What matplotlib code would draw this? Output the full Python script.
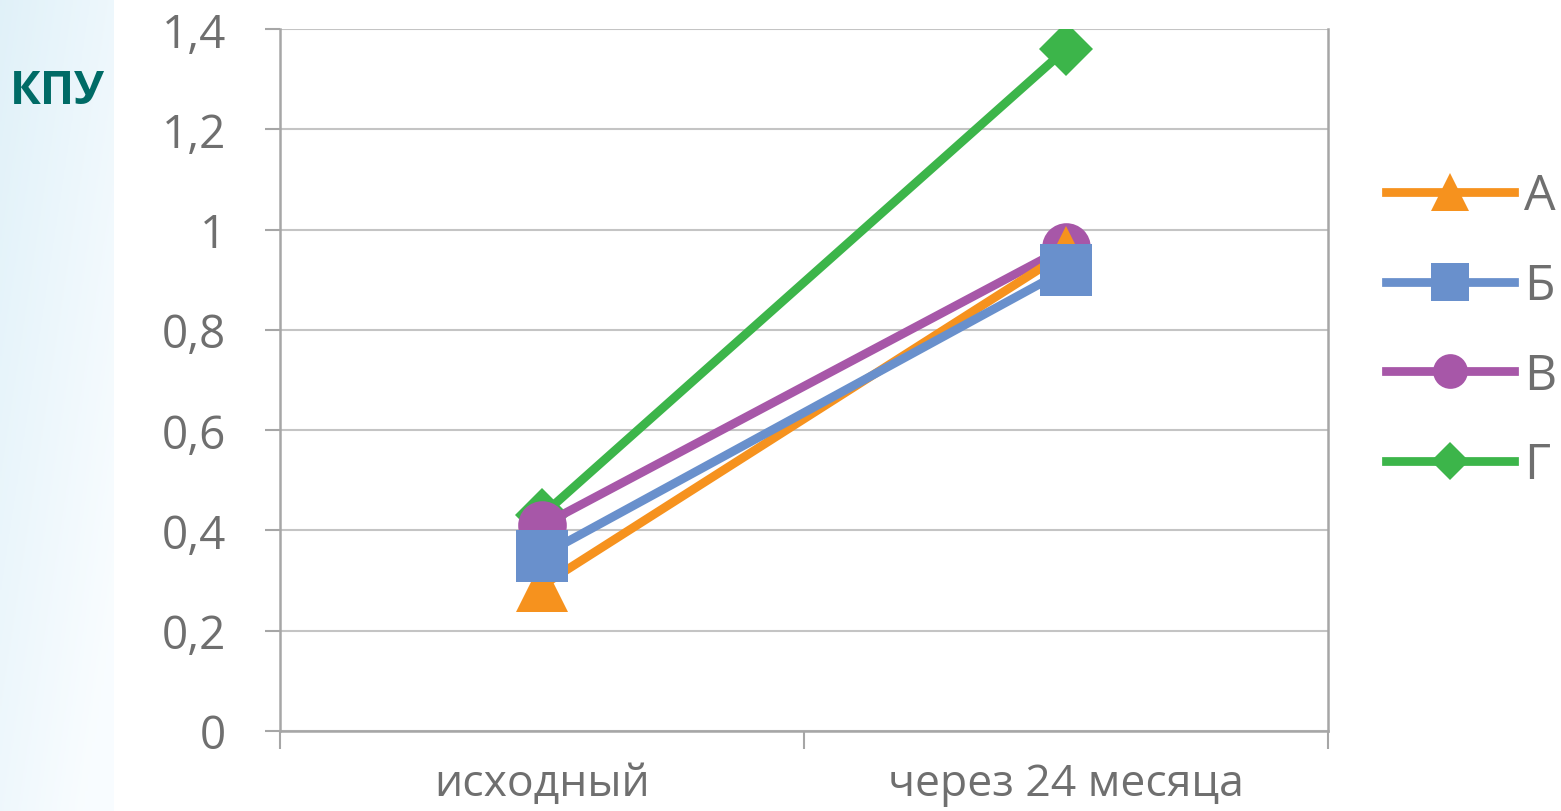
import numpy as np
import matplotlib
matplotlib.use("Agg")
import matplotlib.pyplot as plt
from matplotlib.lines import Line2D
from matplotlib.ticker import FixedLocator, FuncFormatter

categories = ["исходный", "через 24 месяца"]
series_names = ["А", "Б", "В", "Г"]
values_A = [0.29, 0.955]
values_B = [0.35, 0.92]
values_V = [0.41, 0.965]
values_G = [0.43, 1.36]
y_ticks = [0, 0.2, 0.4, 0.6, 0.8, 1.0, 1.2, 1.4]

colors = {"А": "#f6921e", "Б": "#6990cc", "В": "#a757a8", "Г": "#3cb54a"}
markers = {"А": "^", "Б": "s", "В": "o", "Г": "D"}
msizes = {"А": 38, "Б": 38, "В": 35, "Г": 27}
data = {"А": values_A, "Б": values_B, "В": values_V, "Г": values_G}

plt.rcParams['font.family'] = ['Open Sans', 'DejaVu Sans']
text_color = "#6f6f6f"

fig = plt.figure(figsize=(15.61, 8.12), dpi=100)
fig.patch.set_facecolor("white")

# light blue gradient band on the left edge
bg = fig.add_axes([0, 0, 113 / 1561, 1])
gx = np.linspace(0, 1, 50)
gy = np.linspace(0, 1, 100)
GX, GY = np.meshgrid(gx, gy)
t = np.clip(0.55 * GX + 0.6 * GY, 0, 1)
c0 = np.array([0.88, 0.945, 0.975])
c1 = np.array([0.975, 0.99, 1.0])
img = c0[None, None, :] * (1 - t[..., None]) + c1[None, None, :] * t[..., None]
bg.imshow(img, aspect="auto", extent=[0, 1, 0, 1], origin="upper")
bg.axis("off")

ax = fig.add_axes([280 / 1561, 1 - 732 / 812, (1328 - 280) / 1561, (732 - 30) / 812])
x = np.arange(len(categories))

for name in ["Г", "В", "А", "Б"]:
    ax.plot(x, data[name], color=colors[name], lw=6.3, marker=markers[name],
            markersize=msizes[name], markeredgewidth=0, solid_capstyle="butt", zorder=3)

ax.set_xlim(-0.5, 1.5)
ax.set_ylim(0, 1.4)
ax.yaxis.set_major_locator(FixedLocator(y_ticks))
ax.yaxis.set_major_formatter(FuncFormatter(lambda v, p: ("%g" % round(v, 1)).replace(".", ",")))
ax.grid(axis="y", color="#c4c4c4", lw=1.5, zorder=0)
ax.set_axisbelow(True)

ax.set_xticks(x)
ax.set_xticklabels(categories)
ax.set_xticks([-0.5, 0.5, 1.5], minor=True)
ax.tick_params(axis="x", which="major", length=0, pad=22, labelsize=32, labelcolor=text_color)
ax.tick_params(axis="x", which="minor", length=13, width=1.5, color="#a6a6a6")
ax.tick_params(axis="y", which="major", length=11, width=1.5, color="#a6a6a6", pad=28,
               labelsize=33, labelcolor=text_color)

for s in ["left", "bottom", "right"]:
    ax.spines[s].set_color("#a6a6a6")
    ax.spines[s].set_linewidth(1.8)
ax.spines["top"].set_visible(False)

handles = [Line2D([0], [0], color=colors[n], lw=6.3, marker=markers[n],
                  markersize={"А": 27, "Б": 27, "В": 25, "Г": 19}[n], markeredgewidth=0)
           for n in series_names]
fig.legend(handles, series_names, loc="upper left", bbox_to_anchor=(1386 / 1561, 1 - 173 / 812),
           frameon=False, fontsize=36, handlelength=2.55, handletextpad=0.22,
           labelspacing=0.8, labelcolor=text_color, borderaxespad=0, borderpad=0)

fig.text(10 / 1561, 1 - 92 / 812, "КПУ", fontsize=33, fontweight="bold", color="#006b66",
         va="center", ha="left")

fig.savefig("out.png", dpi=100)
